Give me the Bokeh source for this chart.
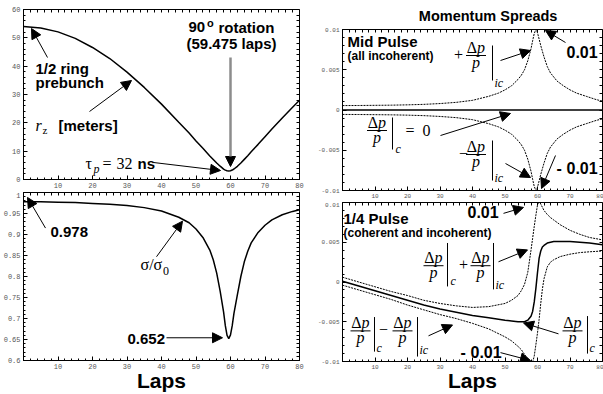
from bokeh.plotting import figure
from bokeh.layouts import row, column
from bokeh.models import Label, Arrow, NormalHead, FixedTicker, LinearAxis
from bokeh.embed import file_html
from bokeh.resources import INLINE

# ---------------- data ----------------
laps = [0, 5, 10, 15, 20, 25, 30, 35, 40, 45, 48, 50, 52, 54, 55, 56, 57, 58,
        58.5, 59, 59.5, 60, 60.5, 61, 62, 63, 64, 65, 66, 68, 70, 72, 75, 78, 80]
rz_meters = [54.0, 53.5, 52.1, 49.8, 46.6, 42.7, 37.9, 32.5, 26.6, 20.2, 16.4, 13.6, 11.0, 8.3, 7.05, 5.8, 4.7, 3.66,
             3.3, 3.07, 3.0, 3.09, 3.34, 3.7, 4.66, 5.8, 7.1, 8.4, 9.8, 12.4, 15.1, 17.8, 21.7, 25.5, 28.0]
sigma_ratio = [0.978, 0.978, 0.977, 0.976, 0.974, 0.972, 0.969, 0.964, 0.956, 0.941, 0.928, 0.913, 0.893, 0.863, 0.840, 0.808, 0.765, 0.715,
               0.683, 0.660, 0.652, 0.661, 0.683, 0.712, 0.757, 0.800, 0.835, 0.860, 0.880, 0.905, 0.922, 0.935, 0.947, 0.955, 0.959]
mid_ic_plus = [0.00055, 0.00056, 0.00058, 0.0006, 0.00064, 0.0007, 0.0008, 0.00095, 0.0012, 0.0017, 0.0021, 0.0025, 0.003, 0.0038, 0.0043, 0.005, 0.0061, 0.0076,
               0.0086, 0.0095, 0.0100, 0.0096, 0.0088, 0.008, 0.0066, 0.0054, 0.0046, 0.0041, 0.0036, 0.003, 0.0025, 0.0021, 0.0017, 0.0013, 0.0011]
mid_ic_minus = [-0.00055, -0.00056, -0.00058, -0.0006, -0.00064, -0.0007, -0.0008, -0.00095, -0.0012, -0.0017, -0.0021, -0.0025, -0.003, -0.0038, -0.0043, -0.005, -0.0061, -0.0076,
                -0.0086, -0.0095, -0.0100, -0.0096, -0.0088, -0.008, -0.0066, -0.0054, -0.0046, -0.0041, -0.0036, -0.003, -0.0025, -0.0021, -0.0017, -0.0013, -0.0011]
mid_c_laps = [0, 80]
mid_c = [0.0, 0.0]

laps_q = [0, 5, 10, 15, 20, 25, 30, 35, 40, 45, 50, 52, 54, 55, 56, 57, 58,
          58.5, 59, 59.5, 60, 60.5, 61, 61.5, 62, 63, 64, 65, 67, 70, 73, 76, 80]
quarter_c = [0.0001, -0.0005, -0.0011, -0.0017, -0.0023, -0.0029, -0.0034, -0.0038, -0.0042, -0.0045, -0.0048, -0.0049, -0.0050, -0.0050, -0.0050, -0.0048, -0.0043,
             -0.0037, -0.0025, -0.0008, 0.0012, 0.0030, 0.0039, 0.0044, 0.0046, 0.0049, 0.0050, 0.0051, 0.0051, 0.0051, 0.0050, 0.0049, 0.0047]
quarter_plus = [0.0006, 0.0000, -0.0006, -0.0012, -0.0017, -0.0023, -0.0027, -0.0030, -0.0032, -0.0031, -0.0027, -0.0023, -0.0017, -0.0011, -0.0003, 0.0012, 0.0040,
                0.0055, 0.0070, 0.0084, 0.0097, 0.0102, 0.0098, 0.0094, 0.0090, 0.0085, 0.0081, 0.0078, 0.0072, 0.0065, 0.0060, 0.0056, 0.0053]
quarter_minus = [-0.0004, -0.0010, -0.0016, -0.0022, -0.0029, -0.0035, -0.0041, -0.0046, -0.0052, -0.0059, -0.0069, -0.0074, -0.0081, -0.0085, -0.0091, -0.0097, -0.0102,
                 -0.0101, -0.0093, -0.0079, -0.0064, -0.0047, -0.0027, -0.0009, 0.0004, 0.0019, 0.0025, 0.0028, 0.0032, 0.0035, 0.0037, 0.0038, 0.0039]

lap_ticks = [10, 20, 30, 40, 50, 60, 70, 80]
lap_labels = ["10", "20", "30", "40", "50", "60", "70", "80"]
rz_ticks = [0, 10, 20, 30, 40, 50, 60]
rz_labels = ["0", "10", "20", "30", "40", "50", "60"]
sig_ticks = [0.6, 0.65, 0.7, 0.75, 0.8, 0.85, 0.9, 0.95, 1.0]
sig_labels = ["0.6", "0.65", "0.7", "0.75", "0.8", "0.85", "0.9", "0.95", "1"]
dp_ticks = [-0.01, -0.005, 0.0, 0.005, 0.01]
dp_labels = ["-0.01", "-0.005", "0", "0.005", "0.01"]

SANS = "Liberation Sans"
SERIF = "Liberation Serif"
MONO = "Liberation Mono"
BASELINE_FIX = 0.32   # em; Bokeh draws "alphabetic" labels slightly low

# frame extents in reference-pixel space, used to place annotations
PANELS = {
    "tl": ((23, 299, 9, 179), (0, 80), (0, 60)),
    "bl": ((23, 299, 192, 362), (0, 80), (0.6, 1.0)),
    "tr": ((342, 602, 29, 190), (0, 80), (-0.01, 0.01)),
    "br": ((342, 602, 202, 363), (0, 80), (-0.01, 0.01)),
}


def to_data(key, px, py):
    (x0, x1, y0, y1), (xa, xb), (ya, yb) = PANELS[key]
    x = xa + (px - x0) / (x1 - x0) * (xb - xa)
    y = yb - (py - y0) / (y1 - y0) * (yb - ya)
    return x, y


def text(p, key, px, py, s, size, font=SANS, style="bold", align="left"):
    x, y = to_data(key, px, py - BASELINE_FIX * size)
    p.add_layout(Label(x=x, y=y, text=s, text_font=font, text_font_size=f"{size}px",
                       text_font_style=style, text_align=align, text_baseline="alphabetic",
                       text_color="black"))


def arrow(p, key, x0, y0, x1, y1, color="black", width=1, head=10):
    a, b = to_data(key, x0, y0)
    c, d = to_data(key, x1, y1)
    p.add_layout(Arrow(x_start=a, y_start=b, x_end=c, y_end=d, line_color=color, line_width=width,
                       end=NormalHead(size=head, fill_color="black", line_color="black", line_width=1)))


def seg(p, key, x0, y0, x1, y1, width=1):
    a, b = to_data(key, x0, y0)
    c, d = to_data(key, x1, y1)
    p.add_layout(Arrow(x_start=a, y_start=b, x_end=c, y_end=d, line_color="black",
                       line_width=width, end=None))


def frac(p, key, cx, ybar, vx, vtop, vbot, sub, subx, suby):
    text(p, key, cx + 1, ybar - 3, "\u0394", 16, SERIF, "normal", "right")
    text(p, key, cx + 1, ybar - 3, "p", 16, SERIF, "italic", "left")
    text(p, key, cx, ybar + 12, "p", 16, SERIF, "italic", "center")
    seg(p, key, cx - 10, ybar, cx + 10, ybar)
    seg(p, key, vx, vtop, vx, vbot)
    text(p, key, subx, suby, sub, 12, SERIF, "italic", "left")


def style_axis(ax, font_px):
    ax.major_tick_in = 4
    ax.major_tick_out = 0
    ax.minor_tick_in = 2
    ax.minor_tick_out = 0
    ax.axis_line_color = "black"
    ax.major_tick_line_color = "black"
    ax.minor_tick_line_color = "black"
    ax.major_label_text_font = MONO
    ax.major_label_text_color = "#555555"
    ax.major_label_text_font_size = f"{font_px}px"
    ax.major_label_standoff = 3


def frame_ticks(p, side, where, major, minor):
    # tick marks only (no labels) on the top and right frame edges; fixed so it takes no room
    ax = LinearAxis(ticker=FixedTicker(ticks=[], minor_ticks=sorted(set(major) | set(minor))),
                    fixed_location=where)
    ax.major_tick_in = 0
    ax.major_tick_out = 0
    ax.minor_tick_in = 3
    ax.minor_tick_out = 0
    ax.major_label_standoff = 0
    ax.axis_line_color = "black"
    ax.minor_tick_line_color = "black"
    p.add_layout(ax, side)
    return ax


def setup(p, yt, ylab, yminor, font_px, ytop):
    p.grid.visible = False
    p.outline_line_color = "black"
    xminor = list(range(0, 81, 2))
    xb = p.below[0]
    yl = p.left[0]
    xb.ticker = FixedTicker(ticks=lap_ticks, minor_ticks=xminor)
    xb.major_label_overrides = dict(zip(lap_ticks, lap_labels))
    yl.ticker = FixedTicker(ticks=yt, minor_ticks=yminor)
    yl.major_label_overrides = dict(zip(yt, ylab))
    style_axis(xb, font_px)
    style_axis(yl, font_px)
    frame_ticks(p, "above", ytop, lap_ticks, xminor)
    frame_ticks(p, "right", 80, yt, yminor)
    return xb


common = dict(output_backend="svg", toolbar_location=None, x_range=(0, 80), title=None)

tl = figure(width=312, height=192, y_range=(0, 60), min_border_left=23, min_border_right=13,
            min_border_top=9, min_border_bottom=13, **common)
bl = figure(width=312, height=202, y_range=(0.6, 1.0), min_border_left=23, min_border_right=13,
            min_border_top=0, min_border_bottom=32, **common)
hdr = figure(width=291, height=26, x_range=(312, 603), y_range=(26, 0), x_axis_location=None,
             y_axis_location=None, min_border=0, outline_line_color=None, title=None,
             output_backend="svg", toolbar_location=None)
tr = figure(width=291, height=176, y_range=(-0.01, 0.01), min_border_left=30, min_border_right=1,
            min_border_top=3, min_border_bottom=12, **common)
br = figure(width=291, height=192, y_range=(-0.01, 0.01), min_border_left=30, min_border_right=1,
            min_border_top=0, min_border_bottom=31, **common)

setup(tl, rz_ticks, rz_labels, list(range(0, 61, 2)), 7, 60)
xb_bl = setup(bl, sig_ticks, sig_labels, [round(0.6 + 0.01 * i, 2) for i in range(41)], 7, 1.0)
setup(tr, dp_ticks, dp_labels, [round(-0.01 + 0.001 * i, 3) for i in range(21)], 6, 0.01)
xb_br = setup(br, dp_ticks, dp_labels, [round(-0.01 + 0.001 * i, 3) for i in range(21)], 6, 0.01)

for ax in (xb_bl, xb_br):
    ax.axis_label = "Laps"
    ax.axis_label_text_font = SANS
    ax.axis_label_text_font_style = "bold"
    ax.axis_label_text_font_size = "21px"
    ax.axis_label_text_color = "black"
    ax.axis_label_standoff = -3

hdr.grid.visible = False
hdr.add_layout(Label(x=475, y=20.5 - BASELINE_FIX * 14.5, text="Momentum Spreads", text_font=SANS,
                     text_font_size="14.5px", text_font_style="bold", text_align="center",
                     text_baseline="alphabetic", text_color="black"))

# ---------------- curves ----------------
tl.line(laps, rz_meters, line_color="black", line_width=1.5)
bl.line(laps, sigma_ratio, line_color="black", line_width=1.5)
tr.line(mid_c_laps, mid_c, line_color="black", line_width=1.5)
tr.line(laps, mid_ic_plus, line_color="black", line_width=1, line_dash="2 1")
tr.line(laps, mid_ic_minus, line_color="black", line_width=1, line_dash="2 1")
br.line(laps_q, quarter_c, line_color="black", line_width=1.5)
br.line(laps_q, quarter_plus, line_color="black", line_width=1, line_dash="2 1")
br.line(laps_q, quarter_minus, line_color="black", line_width=1, line_dash="2 1")

# ---------------- annotations: top left ----------------
text(tl, "tl", 188, 31.7, "90", 15)
text(tl, "tl", 206.5, 26.5, "o", 11)
text(tl, "tl", 218, 31.7, "rotation", 15)
text(tl, "tl", 231, 47.7, "(59.475 laps)", 15, align="center")
arrow(tl, "tl", 230, 57, 230, 166, color="#8c8c8c", width=2.5, head=10)
text(tl, "tl", 35, 72.7, "1/2 ring", 15)
text(tl, "tl", 35, 87, "prebunch", 15)
arrow(tl, "tl", 47, 57, 31, 28)
text(tl, "tl", 35, 130, "r", 16, SERIF, "italic")
text(tl, "tl", 42, 133, "z", 11, SERIF, "normal")
text(tl, "tl", 58, 130, "[meters]", 15)
arrow(tl, "tl", 89, 111, 131, 80)
text(tl, "tl", 85, 168, "\u03c4", 16, SERIF, "normal")
text(tl, "tl", 93, 172, "p", 12, SERIF, "italic")
text(tl, "tl", 102, 168, "=", 16, SERIF, "normal")
text(tl, "tl", 116, 168, "32", 16, SERIF, "normal")
text(tl, "tl", 137, 168, "ns", 15)
arrow(tl, "tl", 153, 162, 220, 170)

# ---------------- annotations: bottom left ----------------
arrow(bl, "bl", 45, 228, 27, 197)
text(bl, "bl", 50, 237, "0.978", 15)
text(bl, "bl", 140, 270, "\u03c3/\u03c3", 16, SERIF, "normal")
text(bl, "bl", 162.5, 275, "0", 12, SERIF, "normal")
arrow(bl, "bl", 156, 257, 182, 221)
text(bl, "bl", 127, 345, "0.652", 15)
arrow(bl, "bl", 166, 339, 222, 339)

# ---------------- annotations: top right ----------------
text(tr, "tr", 347, 46, "Mid Pulse", 15)
text(tr, "tr", 347, 59, "(all incoherent)", 12)
text(tr, "tr", 458, 59, "+", 16, SERIF, "normal", "center")
frac(tr, "tr", 475.5, 55, 492, 45, 80, "ic", 494, 86)
arrow(tr, "tr", 500, 60, 530, 50)
text(tr, "tr", 566, 56.7, "0.01", 16)
arrow(tr, "tr", 565, 42, 545, 30)
frac(tr, "tr", 376.5, 130, 392, 117, 149, "c", 395, 152)
text(tr, "tr", 405, 135, "=", 16, SERIF, "normal")
text(tr, "tr", 422, 135, "0", 16, SERIF, "normal")
arrow(tr, "tr", 440, 135, 510, 113)
text(tr, "tr", 463, 158, "\u2212", 16, SERIF, "normal", "center")
frac(tr, "tr", 475.5, 154, 492, 140, 180, "ic", 494, 181)
arrow(tr, "tr", 505, 163, 530, 177)
text(tr, "tr", 556, 173, "-", 16)
text(tr, "tr", 566, 173, "0.01", 16)
arrow(tr, "tr", 555, 155, 541, 188)

# ---------------- annotations: bottom right ----------------
text(br, "br", 343, 223, "1/4 Pulse", 15)
text(br, "br", 343, 237, "(coherent and incoherent)", 12)
text(br, "br", 467, 217, "0.01", 16)
arrow(br, "br", 503, 213, 523, 207)
frac(br, "br", 433, 266, 447, 243, 287, "c", 450, 285)
text(br, "br", 463, 270, "+", 16, SERIF, "normal", "center")
frac(br, "br", 480, 266, 493, 243, 290, "ic", 495, 289)
arrow(br, "br", 498, 262, 527, 250)
frac(br, "br", 360, 332, 374, 318, 353, "c", 376, 353)
text(br, "br", 383, 336, "\u2212", 16, SERIF, "normal", "center")
frac(br, "br", 402, 332, 417, 318, 358, "ic", 419, 355)
arrow(br, "br", 428, 337, 452, 326)
text(br, "br", 460, 359, "-", 16)
text(br, "br", 470, 359, "0.01", 16)
arrow(br, "br", 500, 354, 530, 362)
frac(br, "br", 572, 332, 587, 317, 355, "c", 589, 353)
arrow(br, "br", 558, 335, 523, 324)

layout = row(column(tl, bl), column(hdr, tr, br))
open("out.html", "w").write(file_html(layout, INLINE))
